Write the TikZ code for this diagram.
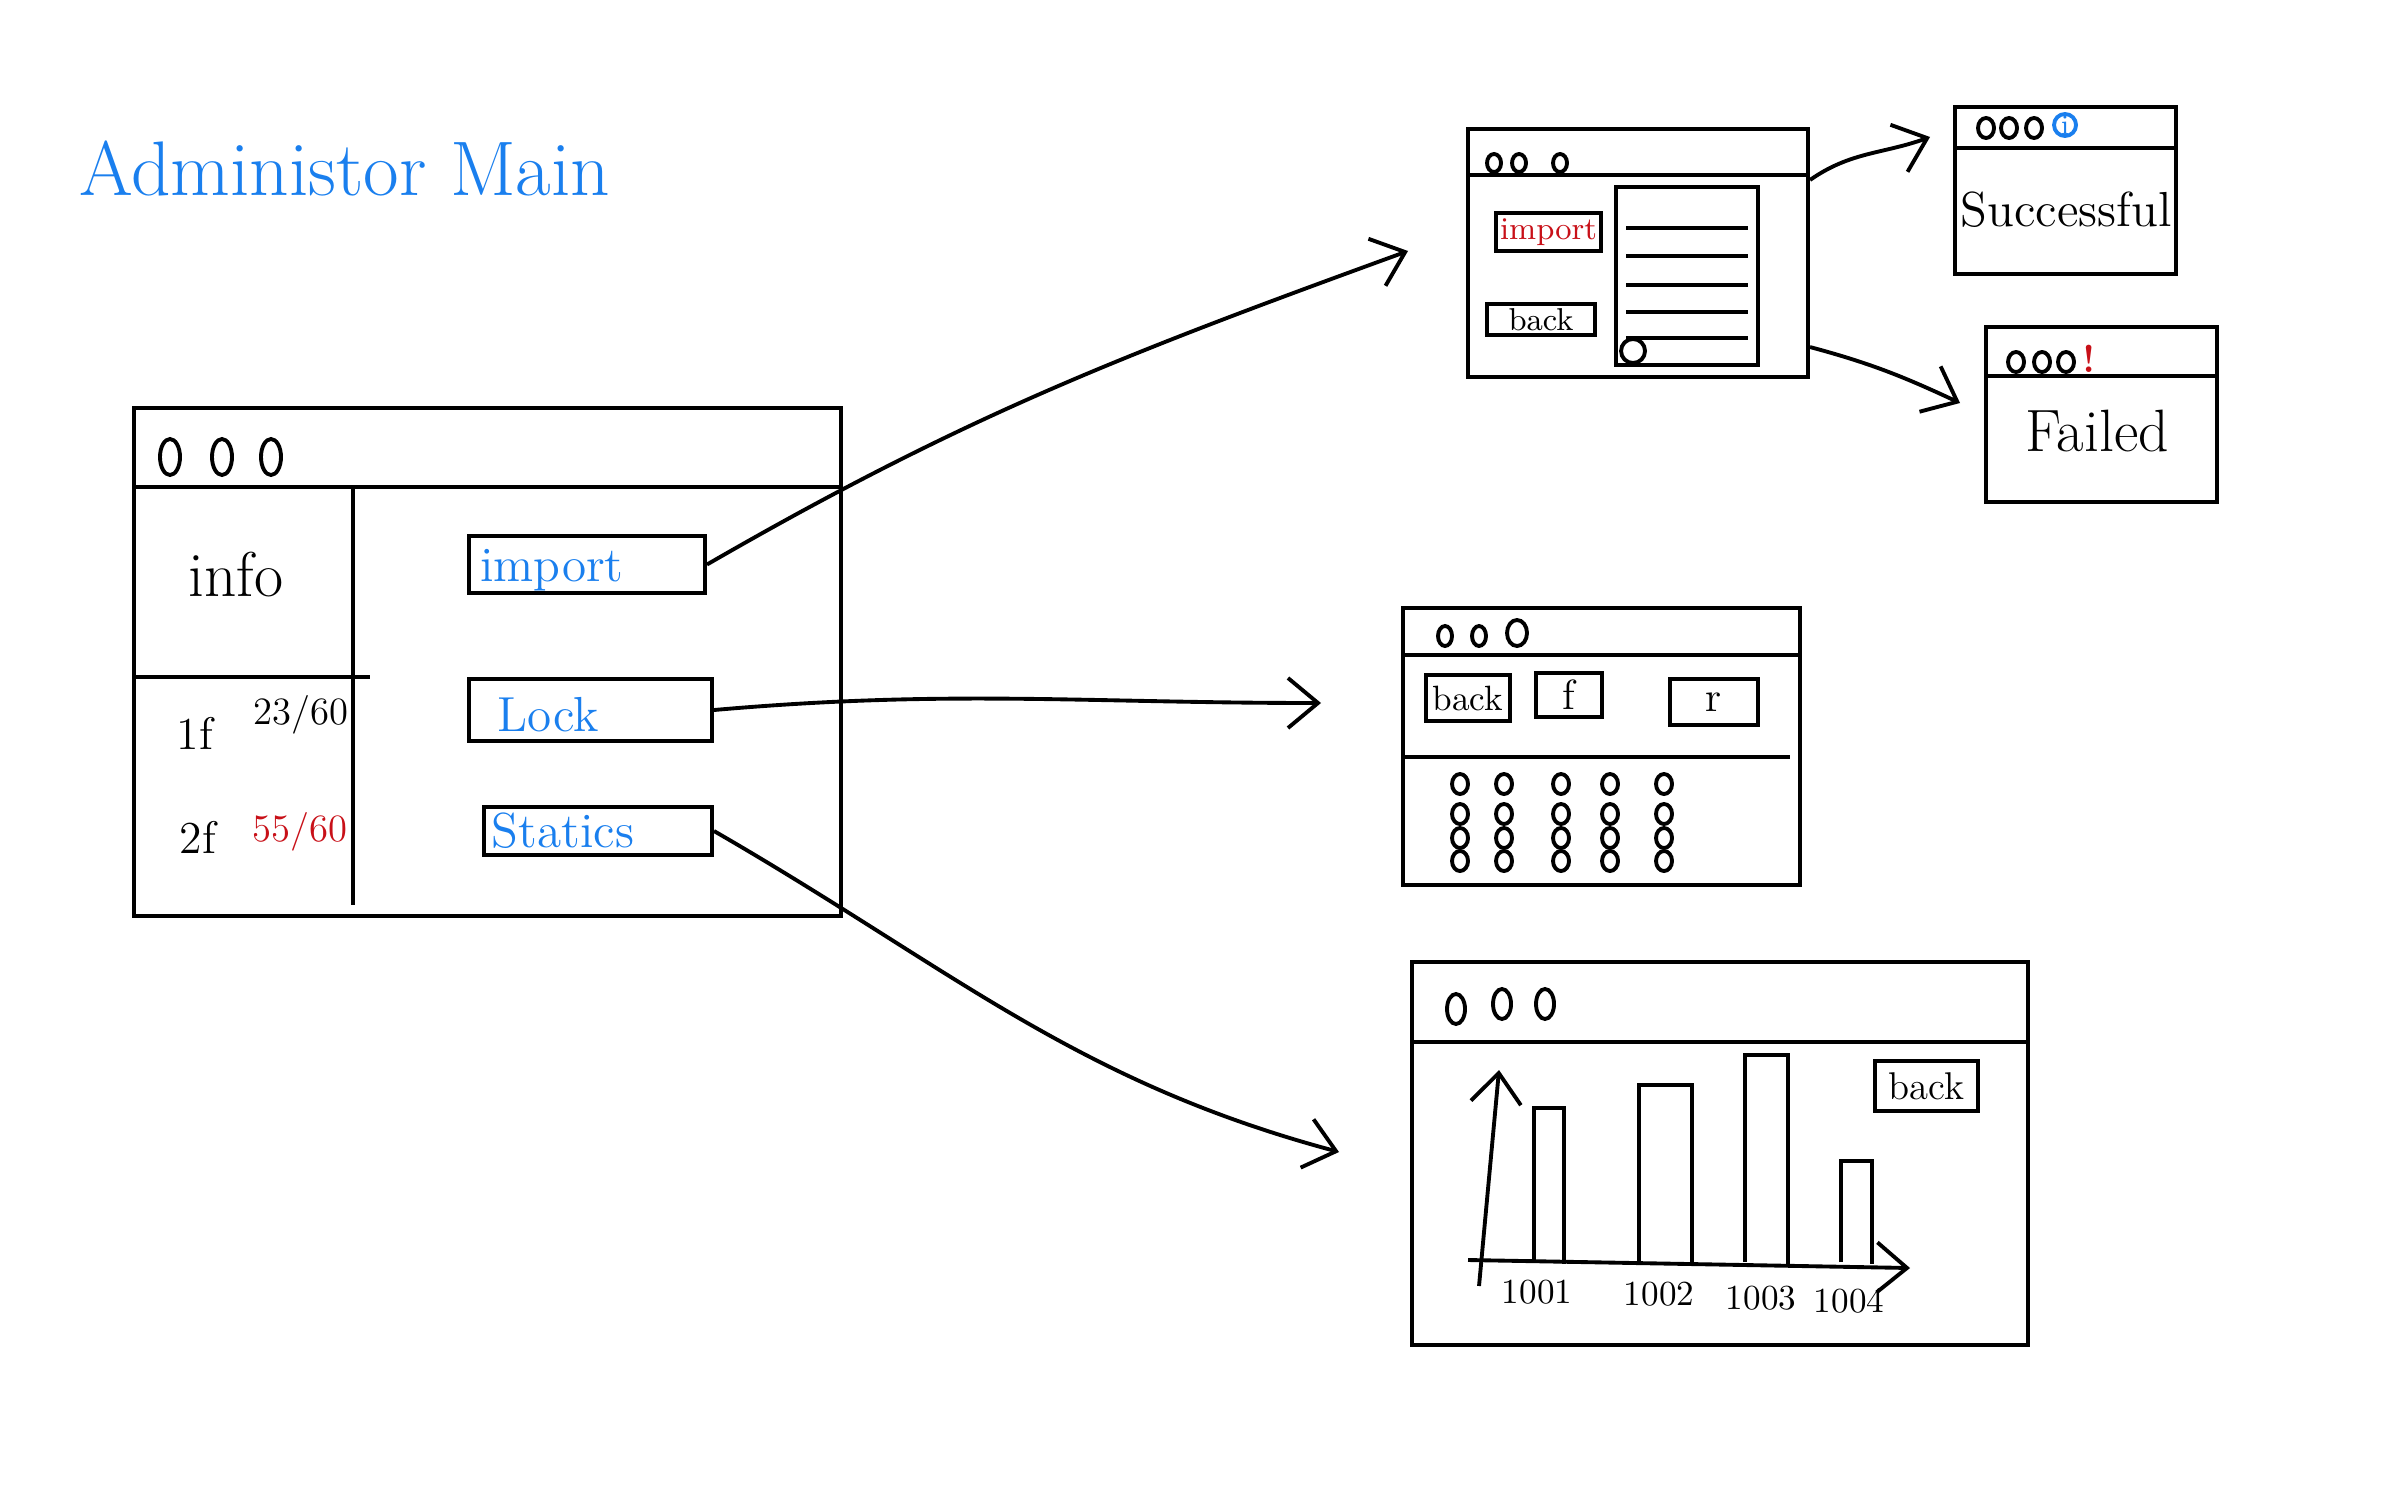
\documentclass[tikz,border=0pt]{standalone}
\usepackage{fontspec}
\usetikzlibrary{arrows.meta}
\tikzset{>={Straight Barb[length=3mm,width=5mm]}}
\definecolor{penblue}{HTML}{1A7FEE}
\definecolor{penred}{HTML}{C81018}
\newcommand{\fsz}[1]{\fontsize{#1}{#1}\selectfont}

\begin{document}
\begin{tikzpicture}[x=0.01cm,y=-0.01cm,line width=1.1pt]
	\tikzset{win/.style = {draw, rectangle, inner sep=0pt}}
	\tikzset{btn/.style = {draw, rectangle, inner sep=0pt}}
	\tikzset{edge/.style = {->, line width=1.1pt}}
	\tikzset{pen/.style = {inner sep=0pt}}

	\useasboundingbox (0,0) rectangle (2386,1491);

	\node[pen, text=penblue, font=\fsz{22}] (title) at (345,168) {Administor Main};

	% main window
	\node[win, minimum width=7.07cm, minimum height=5.08cm] (main) at (487.5,662) {};
	\draw (134,487) -- (841,487);
	\foreach \x in {170,222,271}
		\draw (\x,457) ellipse [x radius=0.1cm, y radius=0.18cm];
	\draw (353,487) -- (353,905);
	\draw (134,677) -- (370,677);
	\node[pen, font=\fsz{18}] (info) at (236,575) {info};
	\node[pen, font=\fsz{13}] (f1) at (195,733) {1f};
	\node[pen, font=\fsz{11}] (f1n) at (301,715) {23/60};
	\node[pen, font=\fsz{13}] (f2) at (198,837) {2f};
	\node[pen, font=\fsz{11}, text=penred] (f2n) at (300,832) {55/60};

	\node[btn, minimum width=2.36cm, minimum height=0.57cm] (bImport) at (587,564.5) {};
	\node[btn, minimum width=2.43cm, minimum height=0.62cm] (bLock) at (590.5,710) {};
	\node[btn, minimum width=2.28cm, minimum height=0.48cm] (bStat) at (598,831) {};
	\node[pen, font=\fsz{14}, text=penblue] (tImport) at (552,570) {import};
	\node[pen, font=\fsz{14}, text=penblue] (tLock) at (548,715) {Lock};
	\node[pen, font=\fsz{14}, text=penblue] (tStat) at (563,831) {Statics};

	% import window
	\node[win, minimum width=3.40cm, minimum height=2.48cm] (wImport) at (1638,253) {};
	\draw (1468,175) -- (1808,175);
	\foreach \x in {1494,1519,1560}
		\draw (\x,163) ellipse [x radius=0.07cm, y radius=0.09cm];
	\node[btn, minimum width=1.05cm, minimum height=0.38cm, text=penred, font=\fsz{9}] (bImport2) at (1548.5,232) {import};
	\node[btn, minimum width=1.08cm, minimum height=0.31cm, font=\fsz{9}] (bBack2) at (1541,319.5) {back};
	\node[win, minimum width=1.42cm, minimum height=1.78cm] (list) at (1687,276) {};
	\foreach \y in {228,256,285,312,338}
		\draw (1626,\y) -- (1748,\y);
	\draw (1633,351) circle [radius=0.12cm];

	% result windows
	\node[win, minimum width=2.21cm, minimum height=1.67cm] (wSucc) at (2065.5,190.5) {};
	\draw (1955,148) -- (2176,148);
	\foreach \x in {1986,2009,2034}
		\draw (\x,128) ellipse [x radius=0.08cm, y radius=0.1cm];
	\draw[penblue] (2065,125) circle [radius=0.11cm];
	\node[pen, text=penblue, font=\fsz{8}] (iSucc) at (2065,125) {i};
	\node[pen, font=\fsz{14}] (tSucc) at (2066,210) {Successful};

	\node[win, minimum width=2.31cm, minimum height=1.75cm] (wFail) at (2101.5,414.5) {};
	\draw (1986,376) -- (2217,376);
	\foreach \x in {2016,2042,2066}
		\draw (\x,362) ellipse [x radius=0.08cm, y radius=0.1cm];
	\node[pen, text=penred, font=\fsz{11}\bfseries] (iFail) at (2089,359) {!};
	\node[pen, font=\fsz{17}] (tFail) at (2097,431) {Failed};

	% lock window
	\node[win, minimum width=3.97cm, minimum height=2.77cm] (wLock) at (1601.5,746.5) {};
	\draw (1403,655) -- (1800,655);
	\draw (1445,636) ellipse [x radius=0.07cm, y radius=0.1cm];
	\draw (1479,636) ellipse [x radius=0.07cm, y radius=0.1cm];
	\draw (1517,633) ellipse [x radius=0.1cm, y radius=0.13cm];
	\node[btn, minimum width=0.84cm, minimum height=0.46cm, font=\fsz{10}] (bBack3) at (1468,698) {back};
	\node[btn, minimum width=0.66cm, minimum height=0.44cm, font=\fsz{12}] (bF) at (1569,695) {f};
	\node[btn, minimum width=0.88cm, minimum height=0.46cm, font=\fsz{12}] (bR) at (1714,702) {r};
	\draw (1403,757) -- (1790,757);
	\foreach \x in {1460,1504,1561,1610,1664}
		\foreach \y in {784,814,838,861}
			\draw (\x,\y) ellipse [x radius=0.08cm, y radius=0.1cm];

	% statics window
	\node[win, minimum width=6.16cm, minimum height=3.83cm] (wStat) at (1720,1153.5) {};
	\draw (1412,1042) -- (2028,1042);
	\draw (1456,1009) ellipse [x radius=0.09cm, y radius=0.15cm];
	\draw (1502,1004) ellipse [x radius=0.09cm, y radius=0.15cm];
	\draw (1545,1004) ellipse [x radius=0.09cm, y radius=0.15cm];
	\node[btn, minimum width=1.03cm, minimum height=0.5cm, font=\fsz{11}] (bBack4) at (1926.5,1086) {back};
	\draw[->] (1479,1286) -- (1499,1070);
	\draw[->] (1468,1260) -- (1910,1268);
	\foreach \l/\r/\t in {1534/1564/1108, 1639/1692/1085, 1745/1788/1055, 1841/1872/1161}
		\draw (\l,1262) -- (\l,\t) -- (\r,\t) -- (\r,1264);
	\node[pen, font=\fsz{10}] (l1001) at (1537,1292) {1001};
	\node[pen, font=\fsz{10}] (l1002) at (1659,1294) {1002};
	\node[pen, font=\fsz{10}] (l1003) at (1761,1298) {1003};
	\node[pen, font=\fsz{10}] (l1004) at (1849,1301) {1004};

	% connectors
	\coordinate (tipImport) at (1408,251);
	\coordinate (tipLock) at (1321,703);
	\coordinate (tipStat) at (1339,1152);
	\coordinate (tipSucc) at (1930,137);
	\coordinate (tipFail) at (1960,403);

	\draw[edge] (bImport.east) to[out=30,in=200] (tipImport);
	\draw[edge] (bLock.east) to[out=5,in=180] (tipLock);
	\draw[edge] (bStat.east) to[out=-30,in=165] (tipStat);
	\draw[edge] ([yshift=0.73cm]wImport.east) to[out=35,in=200] (tipSucc);
	\draw[edge] ([yshift=-0.94cm]wImport.east) to[out=-15,in=155] (tipFail);
\end{tikzpicture}
\end{document}
